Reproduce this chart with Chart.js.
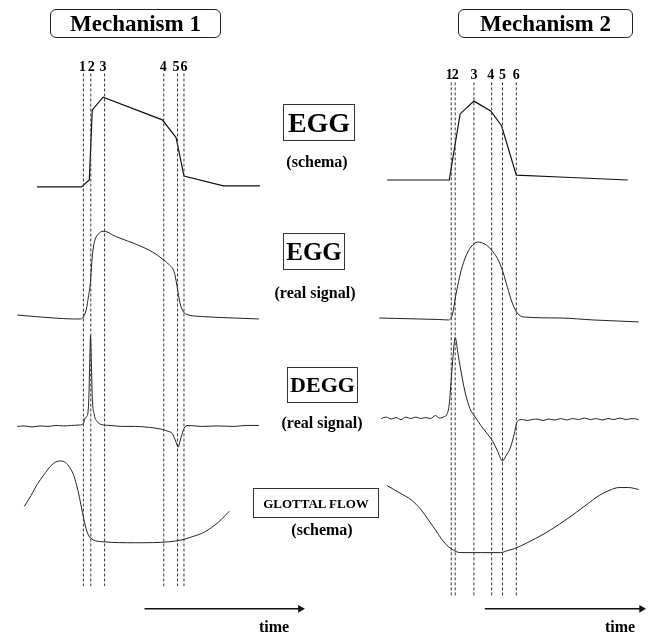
<!DOCTYPE html>
<html>
<head>
<meta charset="utf-8">
<title>EGG mechanisms</title>
<script src="https://cdn.jsdelivr.net/npm/chart.js@4/dist/chart.umd.min.js"></script>
<style>
  html, body { margin: 0; padding: 0; background: #fff; }
  #wrap { position: relative; width: 651px; height: 635px; font-family: "Liberation Serif", "DejaVu Serif", serif; font-weight: bold; color: #000; }
  #wrap canvas { position: absolute; left: 0; top: 0; }
  .lbl { position: absolute; transform: translate(-50%, -50%); white-space: nowrap; line-height: 1; }
  .box { position: absolute; border: 1px solid #333; box-sizing: border-box; display: flex; align-items: center; justify-content: center; line-height: 1; }
  .mech { border: 1.5px solid #222; border-radius: 6px; font-size: 23px; }
</style>
</head>
<body>
<div id="wrap">
  <canvas id="diagram" width="651" height="635"></canvas>

  <div class="box mech" style="left:50px; top:9px; width:171px; height:29px;">Mechanism 1</div>
  <div class="box mech" style="left:458px; top:9px; width:175px; height:29px;">Mechanism 2</div>

  <div class="box" style="left:283px; top:104px; width:72px; height:37px; font-size:28px;">EGG</div>
  <div class="lbl" style="left:317px; top:162px; font-size:16px;">(schema)</div>

  <div class="box" style="left:283px; top:233px; width:62px; height:37px; font-size:25px;">EGG</div>
  <div class="lbl" style="left:315px; top:293px; font-size:16px;">(real signal)</div>

  <div class="box" style="left:287px; top:367px; width:71px; height:36px; font-size:22px;">DEGG</div>
  <div class="lbl" style="left:322px; top:423px; font-size:16px;">(real signal)</div>

  <div class="box" style="left:253px; top:488px; width:126px; height:30px; font-size:13px;">GLOTTAL FLOW</div>
  <div class="lbl" style="left:322px; top:530px; font-size:16px;">(schema)</div>

  <div class="lbl" style="left:274px; top:627px; font-size:16px;">time</div>
  <div class="lbl" style="left:620px; top:627px; font-size:16px;">time</div>
</div>

<script>
// Diagram space: x = time position, y = signal level (drawn top-down, like the page)

// vertical instants 1..6
const instantLabels = ['1', '2', '3', '4', '5', '6'];
const m1Instants = [80, 87.5, 101.5, 161.5, 175.5, 182];
const m2Instants = [453, 457, 476, 494, 505, 519];
const m1InstantSpan = [70, 590];
const m2InstantSpan = [79, 600];
const m1LabelX = [79, 88, 100, 161, 174, 182];
const m2LabelX = [451, 457, 476, 493, 505, 519];
const m1LabelY = 63;
const m2LabelY = 72;

// Mechanism 1 curves
const m1EggSchema = [[33,185],[78,185],[86,178],[89,107],[100,94],[160,117],[174,135],[182,174],[222,184],[259,184]];
const m1EggReal = [[13,315],[30,316.5],[50,318],[70,319],[77,319],[80,317],[83,309],[85,297],[87,283],[88.5,262],[90,247],[92,238],[95,233],[100,230],[105,231],[110,234],[117,237],[133,243],[150,251],[160,258],[167,264],[172,271],[174,280],[176,292],[178,303],[181,311],[184,314],[200,316.5],[233,318],[258,319]];
const m1Degg = [[13,428],[20,427.5],[28,428.5],[36,427.5],[44,428],[52,427],[60,427.5],[68,427],[76,426.5],[80,425],[82,419],[84,417],[85.5,400],[86.5,360],[87.2,336],[88,360],[89,398],[91,416],[94,423],[98,426],[107,427],[120,428],[133,428],[147,429],[160,431],[166,433],[170,435],[172,439],[174,444],[176,449],[178,443],[180,436],[182,430],[186,427],[200,428],[215,427.5],[233,428],[245,427],[258,427]];
const m1Flow = [[20,509],[27,498],[33,487],[40,477],[47,468],[52,464],[57,463],[61,464],[65,468],[70,477],[73,487],[76,500],[79,515],[82,529],[85,538],[90,543],[100,545],[133,546],[167,545],[180,543],[190,540],[203,535],[217,525],[228,514]];

// Mechanism 2 curves
const m2EggSchema = [[388,178],[451,178],[462,111],[476,98],[493,108],[504,123],[519,173],[563,175],[632,178]];
const m2EggReal = [[380,318],[400,318.5],[420,319],[440,319.5],[450,320],[454,315],[458,293],[463,270],[468,255],[473,246],[480,241],[487,243],[493,248],[500,258],[505,270],[510,287],[515,303],[520,313],[527,317],[563,318],[597,320],[643,322]];
const m2Degg = [[382,420],[387,418.5],[392,420.5],[397,419],[402,421],[407,418.5],[412,420],[417,418.5],[422,420],[427,419],[432,420],[437,417],[441,419.5],[446,418],[449,415],[451,405],[453,380],[455,355],[457,338],[460,355],[462,367],[467,393],[472,410],[477,418],[483,427],[490,436],[495,443],[500,453],[505,463],[509,457],[512,452],[515,443],[517,435],[520,423],[525,421],[530,422],[535,421],[540,420.5],[546,422],[552,420.5],[558,421.5],[564,420],[570,421.5],[576,420],[582,421],[588,419.5],[594,421],[600,420],[606,421.5],[612,420],[618,421],[624,419.5],[630,421],[637,420],[643,421]];
const m2Flow = [[388,488],[400,495],[413,503],[422,512],[430,523],[437,533],[443,542],[448,548],[453,552],[458,555],[463,556],[483,556],[503,556],[510,554],[517,552],[530,546],[547,537],[563,527],[580,515],[592,506],[603,498],[613,493],[623,490],[633,490],[643,492]];

// time arrows
const m1TimeAxis = [[142,613],[300,613]];
const m2TimeAxis = [[487,613],[646,613]];

function toPts(pts) { return pts.map(p => ({ x: p[0], y: p[1] })); }

function curve(pts, opts = {}) {
  return Object.assign({
    data: toPts(pts), showLine: true, pointRadius: 0, fill: false,
    borderColor: '#111', borderWidth: 1.2, tension: 0
  }, opts);
}

function instantLines(xs, span) {
  return xs.map(x => curve([[x, span[0]], [x, span[1]]], { borderColor: '#333', borderWidth: 1, borderDash: [3, 2] }));
}

function arrow(pts) {
  return curve(pts, {
    borderWidth: 1.5, pointRadius: [0, 4.5], pointStyle: 'triangle', rotation: 90,
    pointBackgroundColor: '#111', pointBorderColor: '#111', pointBorderWidth: 0
  });
}

const smooth = { cubicInterpolationMode: 'monotone', borderWidth: 1, borderColor: '#222' };

const datasets = [
  ...instantLines(m1Instants, m1InstantSpan),
  ...instantLines(m2Instants, m2InstantSpan),
  curve(m1EggSchema),
  curve(m2EggSchema),
  curve(m1EggReal, smooth),
  curve(m2EggReal, smooth),
  curve(m1Degg, smooth),
  curve(m2Degg, smooth),
  curve(m1Flow, smooth),
  curve(m2Flow, smooth),
  arrow(m1TimeAxis),
  arrow(m2TimeAxis)
];

const chart = new Chart(document.getElementById('diagram').getContext('2d'), {
  type: 'scatter',
  data: { datasets },
  options: {
    responsive: false,
    animation: false,
    events: [],
    layout: { padding: 0 },
    scales: {
      x: { type: 'linear', min: 0, max: 651, display: false },
      y: { type: 'linear', min: 0, max: 635, reverse: true, display: false }
    },
    plugins: { legend: { display: false }, tooltip: { enabled: false } }
  }
});

// number the instants above their dashed lines
function placeInstantLabels(xs, yVal) {
  const wrap = document.getElementById('wrap');
  xs.forEach((x, i) => {
    const el = document.createElement('div');
    el.className = 'lbl';
    el.style.fontSize = '14px';
    el.style.left = chart.scales.x.getPixelForValue(x) + 'px';
    el.style.top = chart.scales.y.getPixelForValue(yVal) + 'px';
    el.textContent = instantLabels[i];
    wrap.appendChild(el);
  });
}
placeInstantLabels(m1LabelX, m1LabelY);
placeInstantLabels(m2LabelX, m2LabelY);
</script>
</body>
</html>
